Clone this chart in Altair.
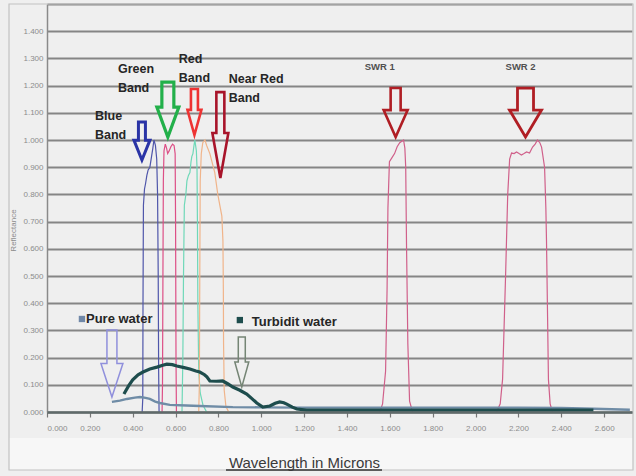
import altair as alt
import pandas as pd

# ---------------- data (wavelength in microns, reflectance) ----------------
blue_x = [0.444, 0.447, 0.448, 0.450, 0.455, 0.460, 0.466, 0.472, 0.480, 0.488, 0.494, 0.499, 0.506, 0.512, 0.516, 0.519, 0.521, 0.523]
blue_y = [0.00, 0.05, 0.40, 0.76, 0.82, 0.84, 0.87, 0.89, 0.90, 0.94, 0.97, 1.00, 0.98, 0.93, 0.80, 0.50, 0.15, 0.00]

green_x = [0.537, 0.539, 0.541, 0.543, 0.546, 0.552, 0.558, 0.563, 0.570, 0.578, 0.586, 0.593, 0.598, 0.600, 0.602, 0.604]
green_y = [0.00, 0.10, 0.50, 0.85, 0.96, 0.985, 0.97, 0.95, 0.96, 0.975, 0.985, 0.98, 0.95, 0.70, 0.20, 0.00]

red_x = [0.630, 0.634, 0.637, 0.641, 0.648, 0.653, 0.660, 0.667, 0.672, 0.676, 0.681, 0.686, 0.690, 0.697, 0.700, 0.702, 0.704, 0.708, 0.715, 0.728, 0.745]
red_y = [0.00, 0.20, 0.50, 0.76, 0.80, 0.85, 0.87, 0.88, 0.92, 0.94, 0.95, 0.98, 1.00, 0.96, 0.90, 0.70, 0.40, 0.15, 0.07, 0.025, 0.00]

nir_x = [0.708, 0.711, 0.713, 0.715, 0.720, 0.727, 0.737, 0.745, 0.760, 0.783, 0.797, 0.816, 0.821, 0.823, 0.824, 0.827, 0.835, 0.848]
nir_y = [0.00, 0.10, 0.50, 0.85, 0.95, 0.99, 1.00, 0.98, 0.95, 0.88, 0.80, 0.72, 0.63, 0.45, 0.25, 0.08, 0.02, 0.00]

swr1_x = [1.553, 1.566, 1.580, 1.587, 1.591, 1.598, 1.610, 1.622, 1.634, 1.646, 1.664, 1.670, 1.674, 1.678, 1.684, 1.692, 1.706]
swr1_y = [0.00, 0.03, 0.15, 0.45, 0.75, 0.92, 0.935, 0.95, 0.975, 0.99, 1.00, 0.97, 0.90, 0.60, 0.25, 0.04, 0.00]

swr2_x = [2.098, 2.115, 2.126, 2.140, 2.150, 2.159, 2.168, 2.180, 2.191, 2.203, 2.214, 2.226, 2.238, 2.252, 2.266, 2.278, 2.289, 2.300, 2.308, 2.322, 2.328, 2.331, 2.336, 2.340, 2.348, 2.359]
swr2_y = [0.00, 0.03, 0.12, 0.50, 0.80, 0.93, 0.952, 0.95, 0.956, 0.95, 0.945, 0.95, 0.956, 0.952, 0.974, 0.985, 1.00, 0.99, 0.974, 0.90, 0.75, 0.63, 0.35, 0.12, 0.03, 0.00]

pure_x = [0.303, 0.340, 0.373, 0.410, 0.434, 0.460, 0.480, 0.505, 0.527, 0.573, 0.650, 0.713, 0.867, 1.000, 1.200, 1.400, 1.800, 2.200, 2.400, 2.550, 2.720]
pure_y = [0.037, 0.042, 0.048, 0.053, 0.055, 0.052, 0.048, 0.038, 0.033, 0.026, 0.024, 0.022, 0.018, 0.017, 0.016, 0.016, 0.016, 0.016, 0.015, 0.012, 0.008]

turbid_x = [0.359, 0.380, 0.400, 0.425, 0.448, 0.480, 0.513, 0.540, 0.559, 0.585, 0.606, 0.640, 0.667, 0.695, 0.713, 0.735, 0.746, 0.760, 0.790, 0.820, 0.845, 0.867, 0.900, 0.932, 0.955, 0.979, 1.007, 1.040, 1.065, 1.086, 1.105, 1.119, 1.145, 1.166, 1.212, 1.400, 1.800, 2.200, 2.550]
turbid_y = [0.066, 0.095, 0.118, 0.137, 0.147, 0.158, 0.165, 0.172, 0.176, 0.174, 0.169, 0.163, 0.158, 0.151, 0.147, 0.137, 0.129, 0.114, 0.113, 0.114, 0.103, 0.092, 0.080, 0.066, 0.050, 0.033, 0.018, 0.022, 0.032, 0.037, 0.034, 0.029, 0.018, 0.011, 0.007, 0.007, 0.007, 0.007, 0.007]

band_names = ["Blue", "Green", "Red", "NearRed", "SWR1", "SWR2"]
band_colors = ["#4f56aa", "#dd4f86", "#6fd8b8", "#f0b48a", "#d0608a", "#d0608a"]

x_ticks = [round(i * 0.2, 1) for i in range(14)]
y_ticks = [round(i * 0.1, 1) for i in range(16)]

# annotations
band_labels = ["Blue\nBand", "Green\nBand", "Red\nBand", "Near Red\nBand"]
band_label_x = [0.224, 0.331, 0.615, 0.848]
band_label_y = [1.110, 1.283, 1.320, 1.246]

swr_labels = ["SWR 1", "SWR 2"]
swr_label_x = [1.483, 2.140]
swr_label_y = [1.268, 1.268]

legend_labels = ["Pure water", "Turbidit water"]
legend_label_x = [0.182, 0.956]
legend_label_y = [0.342, 0.331]
legend_square_x = [0.163, 0.900]
legend_square_y = [0.342, 0.338]
legend_square_color = ["#7088a8", "#1e4d4d"]

arrow_x = [0.443, 0.564, 0.688, 0.809, 1.627, 2.233, 0.303, 0.909]
arrow_y = [0.996, 1.112, 1.103, 1.018, 1.101, 1.101, 0.178, 0.184]
# style of each arrow: height, head half-width, shaft half-width, head start, color, stroke width (px)
arrow_style = [
    (38, 8, 3.5, -0.05, "#2a34a6", 3.0),
    (55, 11, 6, -0.09, "#22b04a", 3.2),
    (46, 7, 3.5, -0.09, "#ee3333", 2.6),
    (86, 8, 4, -0.05, "#a8142a", 2.6),
    (49, 12, 5, -0.10, "#b01e24", 2.6),
    (49, 16, 8, -0.10, "#b01e24", 2.8),
    (67, 11, 5, 0.0, "#9090dc", 1.5),
    (50, 7, 3.5, 0.0, "#758575", 1.5),
]

# ---------------- build tables ----------------
rows = []
for name, xs, ys in zip(band_names, [blue_x, green_x, red_x, nir_x, swr1_x, swr2_x],
                        [blue_y, green_y, red_y, nir_y, swr1_y, swr2_y]):
    for i, (a, b) in enumerate(zip(xs, ys)):
        rows.append({"series": name, "wl": a, "refl": b, "i": i})
bands_df = pd.DataFrame(rows)
pure_df = pd.DataFrame({"wl": pure_x, "refl": pure_y})
turbid_df = pd.DataFrame({"wl": turbid_x, "refl": turbid_y})

x_scale = alt.Scale(domain=[0, 2.73], nice=False, zero=False)
y_scale = alt.Scale(domain=[0, 1.5], nice=False)

x_axis = alt.Axis(
    values=x_ticks, tickCount=30, format=".3f", grid=False, title="Wavelength in Microns",
    labelFontSize=8, labelColor="#8c8c8c", labelFont="Liberation Sans", labelPadding=7,
    labelOverlap=False,
    tickColor="#777777", tickSize=5, tickWidth=1.2, domainColor="#5f6a6a", domainWidth=2.5,
    titleFont="Liberation Sans", titleFontSize=15, titleFontWeight="normal", titleColor="#3a3a3a",
    titleX=257, titleY=50, titleAnchor="middle", titleBaseline="middle", titleAlign="center",
    zindex=1,
)
y_axis = alt.Axis(
    values=y_ticks, tickCount=30, labelExpr="datum.value > 1.45 ? '' : format(datum.value, '.3f')",
    grid=True, gridColor="#858585", gridWidth=2, ticks=False, labelOverlap=False,
    labelFontSize=8, labelColor="#8c8c8c", labelFont="Liberation Sans", labelPadding=4,
    domainColor="#8a8a8a", domainWidth=1.5, title="Reflectance",
    titleFont="Liberation Sans", titleFontSize=8, titleFontWeight="normal", titleColor="#8c8c8c",
    titleX=-34, titleY=226, titleAngle=-90, titleAlign="center", titleBaseline="middle",
)

X = alt.X("wl:Q", scale=x_scale, axis=x_axis)
Y = alt.Y("refl:Q", scale=y_scale, axis=y_axis)

bands = alt.Chart(bands_df).mark_line(strokeWidth=1.2).encode(
    x=X, y=Y,
    color=alt.Color("series:N", scale=alt.Scale(domain=band_names, range=band_colors), legend=None),
    detail="series:N",
    order="i:Q",
)

pure = alt.Chart(pure_df).mark_line(strokeWidth=2.4, color="#6f8ca6").encode(x=X, y=Y)
turbid = alt.Chart(turbid_df).mark_line(strokeWidth=3.2, color="#1e4d4d").encode(x=X, y=Y)

# decorations drawn first: lighter band under the x title
bottom_band = alt.Chart(pd.DataFrame({"a": [0]})).mark_rect(color="#f7f7f7").encode(
    x=alt.value(-38), x2=alt.value(586), y=alt.value(434), y2=alt.value(466))

layers = [bottom_band, bands, pure, turbid]

for ax, ay, st in zip(arrow_x, arrow_y, arrow_style):
    H, hw, sw, k, col, swidth = st
    h = H / 2.0
    s = sw / h
    w = hw / h
    path = (f"M {-s:.3f} -1 L {s:.3f} -1 L {s:.3f} {k} L {w:.3f} {k} "
            f"L 0 1 L {-w:.3f} {k} L {-s:.3f} {k} Z")
    layers.append(
        alt.Chart(pd.DataFrame({"wl": [ax], "refl": [ay]})).mark_point(
            shape=path, size=H * H, filled=False, color=col, strokeWidth=swidth, opacity=1,
            strokeJoin="miter",
        ).encode(x=X, y=Y)
    )

band_text = alt.Chart(pd.DataFrame({"wl": band_label_x, "refl": band_label_y, "t": band_labels})).mark_text(
    align="left", baseline="top", lineBreak="\n", lineHeight=19, fontSize=12.5,
    fontWeight="bold", font="Liberation Sans", color="#262626",
).encode(x=X, y=Y, text="t:N")

swr_text = alt.Chart(pd.DataFrame({"wl": swr_label_x, "refl": swr_label_y, "t": swr_labels})).mark_text(
    align="left", baseline="middle", fontSize=9.5, fontWeight="bold", font="Liberation Sans", color="#505050",
).encode(x=X, y=Y, text="t:N")

legend_text = alt.Chart(pd.DataFrame({"wl": legend_label_x, "refl": legend_label_y, "t": legend_labels})).mark_text(
    align="left", baseline="middle", fontSize=13, fontWeight="bold", font="Liberation Sans", color="#262626",
).encode(x=X, y=Y, text="t:N")

legend_sq = alt.Chart(pd.DataFrame({"wl": legend_square_x, "refl": legend_square_y, "c": legend_square_color})).mark_square(
    size=40, opacity=1,
).encode(x=X, y=Y, color=alt.Color("c:N", scale=None))

frame = alt.Chart(pd.DataFrame({"a": [0]})).mark_rect(fillOpacity=0, stroke="#c2c2c2", strokeWidth=1.2).encode(
    x=alt.value(-38), x2=alt.value(586), y=alt.value(0), y2=alt.value(466))
underline = alt.Chart(pd.DataFrame({"a": [0]})).mark_rule(color="#333333", strokeWidth=1.5).encode(
    x=alt.value(179), x2=alt.value(335), y=alt.value(466))

layers += [band_text, swr_text, legend_text, legend_sq, frame, underline]

chart = alt.layer(*layers).properties(
    width=585, height=408,
    padding={"left": 47, "top": 4, "right": 4, "bottom": 64},
    autosize=alt.AutoSizeParams(type="none"),
    background="#efefef",
).configure_view(strokeWidth=0)

chart.save("out.html", embed_options={"renderer": "svg", "actions": False})
